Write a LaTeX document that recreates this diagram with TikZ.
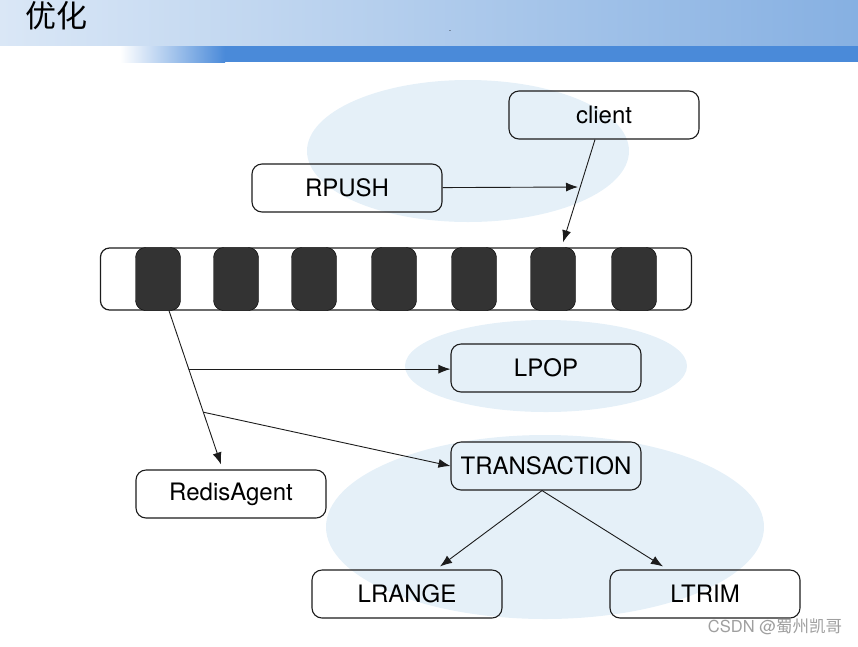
\documentclass[tikz,border=0pt]{standalone}
\usepackage{fontspec}
\setmainfont{TeX Gyre Heros}
\newfontfamily\cjkfont{Noto Sans CJK SC}
\usetikzlibrary{arrows.meta,positioning,calc}
\definecolor{Ink}{HTML}{1C1C1C}
\definecolor{Cell}{HTML}{333333}
\definecolor{Halo}{HTML}{E5F0F8}
\definecolor{BandL}{HTML}{DAE7F6}
\definecolor{BandR}{HTML}{86B0E2}
\definecolor{Bar}{HTML}{4A8AD9}
\tikzset{
cmdbox/.style={draw=Ink, line width=1.1pt, rounded corners=10pt, minimum width=190pt, minimum height=48pt, inner sep=0pt, font=\fontsize{24}{27}\selectfont},
queuebar/.style={draw=Ink, line width=1.2pt, rounded corners=9pt, fill=white, minimum width=591pt, minimum height=62pt},
cell/.style={draw=black, fill=Cell, rounded corners=10pt, minimum width=45pt, minimum height=63pt},
flow/.style={->, line width=0.9pt, draw=Ink},
halo/.style={fill=Halo}
}
\begin{document}
\begin{tikzpicture}[x=1pt, y=-1pt, >={Latex[length=12pt,width=9pt]}]
  \useasboundingbox (0,0) rectangle (858,646);
  % header
  \shade[left color=BandL, right color=BandR] (0,0) rectangle (858,46);
  \fill[white] (0,46) rectangle (120,62);
  \shade[left color=white, right color=Bar] (120,46) rectangle (225,62);
  \fill[Bar] (225,46) rectangle (858,62);
  \node[anchor=north west, font=\cjkfont\fontsize{31}{34}\selectfont, inner sep=0pt] (title) at (25,1) {优化};
  \node[font=\fontsize{6}{6}\selectfont, inner sep=0pt] (tick) at (450,32) {-};
  % halos
  \fill[halo] (468,151) ellipse [x radius=161pt, y radius=71pt];
  \fill[halo] (546,366) ellipse [x radius=141pt, y radius=46pt];
  \fill[halo] (545,527) ellipse [x radius=219pt, y radius=92pt];
  % queue
  \node[queuebar] (queue) at (396,279) {};
  \foreach \i/\x in {1/158,2/236,3/314,4/394,5/474,6/553,7/634}
    \node[cell] (c\i) at (\x,279) {};
  % commands
  \node[cmdbox] (client) at (604,115) {client};
  \node[cmdbox] (rpush) at (347,188) {RPUSH};
  \node[cmdbox] (lpop) at (546,368) {LPOP};
  \node[cmdbox] (trans) at (546,466) {TRANSACTION};
  \node[cmdbox] (agent) at (231,494) {RedisAgent};
  \node[cmdbox] (lrange) at (407,594) {LRANGE};
  \node[cmdbox] (ltrim) at (705,594) {LTRIM};
  \node[text=gray!75, font=\fontsize{16.5}{18}\selectfont, inner sep=0pt] (mark) at (775,627) {CSDN @{\cjkfont 蜀州凯哥}};
  % links
  \coordinate (hit) at (578,187);
  \draw[flow] (rpush) -- (hit);
  \draw[flow] ([xshift=-9pt]client.south) -- ([xshift=10pt,yshift=5pt]c6.north);
  \coordinate (tail) at ([xshift=11pt]c1.south);
  \coordinate (head) at ([xshift=-10pt,yshift=5pt]agent.north);
  \draw[flow] (tail) -- (head);
  \path (tail) -- (head) coordinate[pos=0.38] (b1) coordinate[pos=0.66] (b2);
  \draw[flow] (b1) -- (b1 -| lpop.west);
  \draw[flow] (b2) -- (trans.west);
  \draw[flow] ([xshift=-4pt]trans.south) -- ([xshift=33pt,yshift=3pt]lrange.north);
  \draw[flow] ([xshift=-4pt]trans.south) -- ([xshift=-42pt,yshift=3pt]ltrim.north);
\end{tikzpicture}
\end{document}
